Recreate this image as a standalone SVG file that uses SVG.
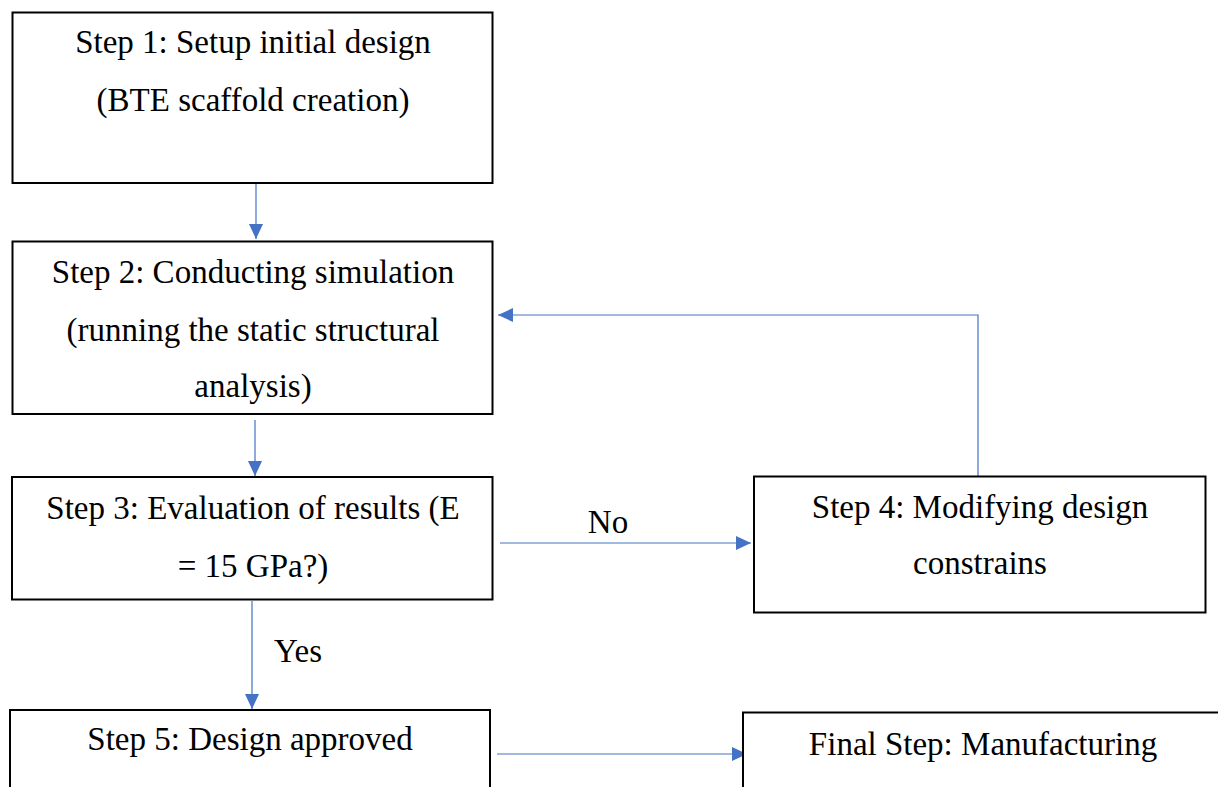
<svg xmlns="http://www.w3.org/2000/svg" width="1218" height="787" viewBox="0 0 1218 787">
<style>
.box{fill:#fff;stroke:#000;stroke-width:2}
.t{font-size:33px;fill:#000;text-anchor:middle}
.c{fill:none;stroke:#4472C4;stroke-width:1.2}
</style>
<defs>
<marker id="ah" markerUnits="userSpaceOnUse" markerWidth="15" markerHeight="14" refX="15" refY="7" orient="auto">
<path d="M0,0 L15,7 L0,14 Z" fill="#4472C4"/>
</marker>
</defs>
<rect width="1218" height="787" fill="#fff"/>
<g font-family="'Liberation Serif', 'Times New Roman', Tinos, 'DejaVu Serif', serif">
<g id="connectors">
<line class="c" x1="256" y1="184" x2="256" y2="239" marker-end="url(#ah)"/>
<line class="c" x1="255" y1="420" x2="255" y2="476" marker-end="url(#ah)"/>
<line class="c" x1="500" y1="543" x2="751" y2="543" marker-end="url(#ah)"/>
<path class="c" d="M978,476 V315 H498" marker-end="url(#ah)"/>
<line class="c" x1="252" y1="601" x2="252" y2="709" marker-end="url(#ah)"/>
<line class="c" x1="497" y1="754" x2="747" y2="754" marker-end="url(#ah)"/>
<text class="t" x="608" y="533">No</text>
<text class="t" x="298" y="662">Yes</text>
</g>
<g id="step1">
<rect class="box" x="12.5" y="12.5" width="480" height="170.5"/>
<text class="t" x="253" y="53">Step 1: Setup initial design</text>
<text class="t" x="253" y="111">(BTE scaffold creation)</text>
</g>
<g id="step2">
<rect class="box" x="12.5" y="241.5" width="480" height="172.5"/>
<text class="t" x="253" y="283">Step 2: Conducting simulation</text>
<text class="t" x="253" y="341">(running the static structural</text>
<text class="t" x="253" y="397">analysis)</text>
</g>
<g id="step3">
<rect class="box" x="12" y="477" width="480.5" height="122.5"/>
<text class="t" x="253" y="519">Step 3: Evaluation of results (E</text>
<text class="t" x="253" y="577">= 15 GPa?)</text>
</g>
<g id="step4">
<rect class="box" x="754" y="476.5" width="451.5" height="136"/>
<text class="t" x="980" y="518">Step 4: Modifying design</text>
<text class="t" x="980" y="574">constrains</text>
</g>
<g id="step5">
<rect class="box" x="10" y="710" width="480" height="100"/>
<text class="t" x="250" y="750">Step 5: Design approved</text>
</g>
<g id="final">
<rect class="box" x="743" y="712.5" width="500" height="100"/>
<text class="t" x="983" y="755">Final Step: Manufacturing</text>
</g>
</g>
</svg>
